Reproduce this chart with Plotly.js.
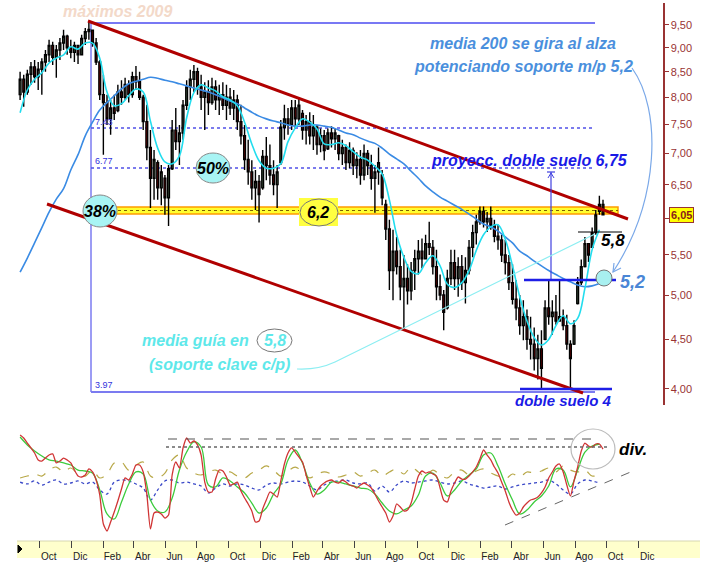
<!DOCTYPE html>
<html><head><meta charset="utf-8">
<script src="https://cdn.plot.ly/plotly-3.0.1.min.js"></script>
<style>html,body{margin:0;padding:0;background:#fff}#chart{width:708px;height:567px}</style>
</head><body><div id="chart"></div>
<script>
// ---- DATA (weekly candles starting 2009-08-24) ----
const startDate = '2009-08-24';
const openP = [8.05,8.35,8.10,8.45,8.60,8.40,8.55,8.70,8.85,9.05,
8.80,8.95,9.10,9.25,9.00,8.90,9.05,8.85,9.20,9.35,
9.38,9.10,8.70,8.05,7.90,7.60,7.80,7.75,8.10,8.00,
8.25,8.05,8.40,8.30,8.00,7.55,7.10,6.60,6.85,6.45,
6.60,6.30,6.75,7.40,7.20,7.35,7.85,8.20,8.35,8.50,
8.20,8.00,8.10,7.90,8.20,7.95,8.05,7.85,8.00,7.80,
7.95,7.55,7.30,6.90,6.70,6.45,6.55,6.45,6.95,6.80,
6.65,6.50,6.85,7.45,7.60,7.50,7.80,7.60,7.70,7.40,
7.55,7.30,7.45,7.15,7.30,7.08,7.35,7.25,7.30,7.00,
7.10,6.85,7.05,6.80,6.90,6.65,7.00,6.80,6.60,6.70,
6.65,6.20,5.85,5.30,5.55,5.35,5.10,5.20,5.05,5.30,
5.45,5.55,5.45,5.65,5.60,5.35,5.10,5.00,4.85,5.20,
5.40,5.20,5.35,5.15,5.30,5.60,5.80,5.95,6.10,5.95,
6.00,5.90,5.75,5.70,5.50,5.40,5.15,4.95,4.85,4.65,
4.75,4.50,4.45,4.30,4.40,4.50,4.85,4.75,4.80,4.70,
4.75,4.65,4.45,4.45,4.90,5.15,5.35,5.65,5.60,5.80,
6.10,6.20];
const highP = [8.50,8.44,8.54,8.70,8.74,8.70,8.78,8.95,9.17,9.13,
9.06,9.21,9.39,9.28,9.17,9.13,9.06,9.28,9.43,9.59,
9.39,9.21,8.74,8.44,8.05,7.95,8.05,8.24,8.33,8.38,
8.33,8.50,8.62,8.50,8.05,7.86,7.40,7.06,6.89,6.81,
6.65,6.81,7.58,7.80,7.49,7.95,8.33,8.54,8.64,8.58,
8.44,8.29,8.33,8.38,8.33,8.24,8.29,8.24,8.18,8.14,
8.05,7.86,7.49,7.23,6.89,6.73,6.65,7.06,7.28,7.15,
6.89,6.81,7.58,7.86,7.80,7.95,7.95,8.00,7.76,7.67,
7.72,7.67,7.49,7.43,7.40,7.43,7.47,7.43,7.32,7.23,
7.15,7.19,7.10,7.02,7.06,7.15,7.06,6.98,6.81,7.10,
6.73,6.27,5.98,5.84,5.74,5.57,5.50,5.38,5.41,5.57,
5.70,5.72,5.77,5.95,5.70,5.57,5.25,5.06,5.31,5.57,
5.57,5.47,5.50,5.47,5.70,5.91,6.05,6.17,6.17,6.09,
6.17,5.98,5.91,5.77,5.70,5.50,5.38,5.18,5.00,4.94,
4.83,4.75,4.63,4.55,4.60,4.94,5.18,4.94,5.00,5.18,
4.83,4.77,4.49,4.71,5.22,5.44,5.74,5.66,5.87,6.12,
6.33,6.27];
const lowP = [7.95,7.82,8.05,8.24,8.28,8.14,8.05,8.50,8.70,8.64,
8.38,8.74,8.95,8.85,8.78,8.70,8.66,8.85,9.06,9.17,
9.02,8.64,7.95,6.98,7.49,7.32,7.58,7.72,7.86,7.95,
7.90,7.99,8.14,7.95,7.40,6.89,6.15,6.27,6.27,6.19,
6.05,5.89,6.73,7.06,6.81,7.23,7.76,7.95,8.10,8.05,
7.76,7.40,7.67,7.86,7.76,7.67,7.76,7.58,7.67,7.58,
7.40,7.15,6.73,6.50,6.27,6.12,5.94,6.42,6.57,6.50,
6.34,6.15,6.81,7.23,7.32,7.40,7.43,7.49,7.23,7.15,
7.15,7.06,6.98,7.02,6.89,7.06,7.10,7.06,6.89,6.81,
6.73,6.76,6.65,6.60,6.50,6.57,6.65,6.42,6.08,6.50,
6.19,5.70,5.06,4.94,5.25,4.94,4.60,4.89,4.94,5.06,
5.25,5.33,5.44,5.50,5.25,4.94,4.94,4.60,4.83,5.12,
5.06,4.98,5.06,4.90,5.25,5.47,5.64,5.91,5.87,5.81,
5.84,5.67,5.57,5.41,5.25,5.06,4.89,4.71,4.55,4.49,
4.39,4.29,4.18,4.09,4.01,4.49,4.66,4.55,4.66,4.71,
4.60,4.39,3.99,4.44,4.89,5.12,5.34,5.41,5.60,5.77,
6.05,6.05];
const closeP = [8.35,8.10,8.45,8.60,8.40,8.55,8.70,8.85,9.05,8.80,
8.95,9.10,9.25,9.00,8.90,9.05,8.85,9.20,9.35,9.40,
9.10,8.70,8.05,7.90,7.60,7.80,7.70,8.10,8.00,8.25,
8.05,8.40,8.30,8.00,7.55,7.10,6.60,6.90,6.45,6.70,
6.30,6.75,7.40,7.20,7.35,7.85,8.20,8.35,8.50,8.20,
8.00,8.10,7.90,8.20,7.95,8.05,7.85,8.00,7.80,7.95,
7.55,7.30,6.90,6.70,6.45,6.55,6.35,6.95,6.80,6.65,
6.50,6.70,7.45,7.60,7.50,7.80,7.60,7.85,7.40,7.55,
7.30,7.45,7.15,7.30,7.05,7.35,7.25,7.35,7.00,7.10,
6.85,7.05,6.80,6.90,6.65,7.00,6.80,6.60,6.70,6.85,
6.30,5.85,5.30,5.55,5.35,5.10,5.20,5.05,5.30,5.45,
5.55,5.45,5.65,5.60,5.35,5.10,5.00,4.80,5.20,5.40,
5.20,5.35,5.15,5.30,5.60,5.80,5.95,6.10,5.95,6.00,
5.90,5.75,5.70,5.50,5.40,5.15,4.95,4.85,4.65,4.75,
4.50,4.45,4.30,4.40,4.20,4.85,4.75,4.80,4.70,4.75,
4.65,4.45,4.30,4.65,5.15,5.35,5.65,5.50,5.80,6.05,
6.20,6.05];
// moving averages, one value every 2 weeks
const maShort = [7.71,8.14,8.35,8.48,8.68,8.78,8.85,9.02,8.97,9.10,
9.10,8.78,8.10,7.84,7.88,8.03,8.16,8.10,7.56,7.09,
6.86,6.83,6.96,7.62,8.09,8.24,8.18,8.12,8.01,7.95,
7.84,7.54,7.16,6.88,6.76,6.76,6.83,7.20,7.44,7.60,
7.54,7.42,7.16,7.15,7.18,7.13,7.03,6.94,6.89,6.79,
6.67,6.27,5.77,5.47,5.29,5.26,5.40,5.49,5.36,5.13,
5.09,5.15,5.30,5.56,5.77,5.88,5.91,5.71,5.36,4.98,
4.70,4.52,4.44,4.50,4.65,4.76,4.67,4.73,5.08,5.57,
5.84];
const ma200 = [5.28,5.46,5.66,5.87,6.09,6.28,6.44,6.73,6.98,7.30,
7.54,7.76,7.90,8.03,8.16,8.26,8.31,8.35,8.39,8.37,
8.33,8.30,8.26,8.22,8.18,8.14,8.10,8.05,7.99,7.93,
7.88,7.80,7.72,7.65,7.60,7.56,7.53,7.49,7.47,7.47,
7.49,7.49,7.47,7.45,7.40,7.35,7.32,7.26,7.21,7.17,
7.09,6.99,6.91,6.83,6.71,6.60,6.48,6.39,6.31,6.25,
6.19,6.13,6.06,5.99,5.92,5.88,5.82,5.74,5.66,5.55,
5.49,5.42,5.36,5.30,5.25,5.20,5.16,5.12,5.10,5.11,
5.14];
// oscillators (0-100 scale)
const oscRed = [87.5,85,80.8,76.7,72.5,66.7,65.8,68.3,70.8,71.7,
64.2,65.8,68.3,66.7,64.2,58.3,53.3,52.5,54.2,59.2,
56.7,50,37.5,13.3,7.5,15,23.3,32.5,42.5,51.7,
50,55,62.5,62.5,56.7,38.3,9.2,22.5,23.3,21.7,
18.3,20.8,54.2,65,60,76.7,85,80.8,82.5,79.2,
70.8,48.3,40,40,50.8,58.3,57.5,52.5,45.8,46.7,
48.3,40.8,35,30,24.2,15,15.8,25.8,33.3,40,
38.3,35.8,49.2,63.3,72.5,76.7,73.3,69.2,65,54.2,
44.2,35.8,40.8,45,47.5,49.2,50,48.3,47.5,50,
48.3,45.8,45,43.3,45.8,47.5,45.8,43.3,38.3,32.5,
27.5,22.5,15,20,30,27.5,24.2,25,30.8,42.5,
53.3,57.5,55.8,56.7,55,53.3,43.3,33.3,31.7,40.8,
47.5,52.5,50.8,50.8,53.3,56.7,60.8,67.5,75,70.8,
66.7,60.8,55.8,48.3,40.8,31.7,25,20.8,22.5,27.5,
30.8,33.3,34.2,35.8,39.2,44.2,51.7,56.7,61.7,63.3,
56.7,45.8,36.7,49.2,60.8,74.2,80.8,78.3,77.5,80,
80,75.8];
const oscGreen = [85.8,79.2,74.2,70,66.7,65.8,64.2,62.5,58.3,57.5,
55.8,41.7,21.7,17.5,31.7,46.7,56.7,55,33.3,24.2,
23.3,35,58.3,73.3,81.7,77.5,45.8,44.2,51.7,49.2,
44.2,39.2,30.8,22.5,26.7,38.3,46.7,66.7,75,64.2,
47.5,38.3,41.7,48.3,48.3,46.7,45,43.3,42.5,38.3,
30.8,24.2,21.7,25,28.3,37.5,53.3,55.8,47.5,36.7,
41.7,49.2,54.2,59.2,70.8,72.5,61.7,46.7,33.3,21.7,
25,31.7,36.7,45,59.2,58.3,44.2,58.3,73.3,78.3,
80];
const oscOlive = [51.7,53.3,55,53.3,58.3,60.8,56.7,60,55,53.3,
58.3,51.7,55,64.2,65,58.3,62.5,65,53.3,51.7,
55.8,66.7,70.8,60,55.8,54.2,56.7,58.3,55,56.7,
53.3,51.7,55.8,58.3,61.7,58.3,53.3,57.5,60.8,56.7,
51.7,55,56.7,55,52.5,54.2,56.7,53.3,55.8,58.3,
53.3,56.7,59.2,55,60.8,56.7,53.3,58.3,54.2,51.7,
56.7,58.3,54.2,57.5,59.2,55.8,53.3,50.8,55,52.5,
56.7,55.8,57.5,60,56.7,61.7,58.3,56.7,58.3,53.3,
54.2];
const oscBlue = [48.3,46.7,49.2,45.8,48.3,50,46.7,47.5,49.2,46.7,
48.3,41.7,38.3,48.3,50,49.2,46.7,43.3,33.3,41.7,
49.2,50,47.5,48.3,46.7,45,39.2,43.3,46.7,45,
46.7,45.8,43.3,41.7,45.8,47.5,46.7,48.3,49.2,48.3,
45,41.7,45.8,48.3,49.2,50,47.5,46.7,47.5,40.8,
45,40,45.8,49.2,47.5,48.3,49.2,50,48.3,46.7,
47.5,49.2,46.7,45,43.3,44.2,45,42.5,44.2,45.8,
46.7,47.5,48.3,50,46.7,41.7,38.3,46.7,50,49.2,
47.5];
const monthTickDates = ['2009-10-01','2009-12-01','2010-02-01','2010-04-01','2010-06-01','2010-08-01',
'2010-10-01','2010-12-01','2011-02-01','2011-04-01','2011-06-01','2011-08-01',
'2011-10-01','2011-12-01','2012-02-01','2012-04-01','2012-06-01','2012-08-01',
'2012-10-01','2012-12-01'];
const monthTickLabels = ['Oct','Dic','Feb','Abr','Jun','Ago','Oct','Dic','Feb','Abr','Jun','Ago',
'Oct','Dic','Feb','Abr','Jun','Ago','Oct','Dic'];
const priceTicks = [4,4.5,5,5.5,6,6.5,7,7.5,8,8.5,9,9.5];
const priceTickLabels = ['4,00','4,50','5,00','5,50','','6,50','7,00','7,50','8,00','8,50','9,00','9,50'];
const lastPriceLabel = '6,05';

// ---- helpers ----
function weekDate(k){const d=new Date(startDate+'T00:00:00Z');d.setUTCDate(d.getUTCDate()+7*k);return d.toISOString().slice(0,10);}
const weeks = openP.map((_,k)=>weekDate(k));
const weeks2 = maShort.map((_,i)=>weekDate(2*i));

const W=708,H=567;
const PX=x=>x/W, PY=y=>1-y/H;
function seg(x0,y0,x1,y1,color,width,dash,layer){return {type:'line',xref:'paper',yref:'paper',x0:PX(x0),y0:PY(y0),x1:PX(x1),y1:PY(y1),line:{color:color,width:width,dash:dash||'solid'},layer:layer||'above'};}
function box(type,x0,y0,x1,y1,fill,lc,lw,layer){return {type:type,xref:'paper',yref:'paper',x0:PX(x0),y0:PY(y0),x1:PX(x1),y1:PY(y1),fillcolor:fill||'rgba(0,0,0,0)',line:{color:lc||'rgba(0,0,0,0)',width:lw||0},layer:layer||'above'};}
function path(tokens,color,width,fill){let s='';let nx=true;for(const t of tokens){if(typeof t==='string'){s+=t;nx=true;}else{if(nx){s+=PX(t).toFixed(5)+',';nx=false;}else{s+=PY(t).toFixed(5)+' ';nx=true;}}}
 return {type:'path',xref:'paper',yref:'paper',path:s,line:{color:color,width:width},fillcolor:fill||'rgba(0,0,0,0)',layer:'above'};}
const FF='Arial, "Liberation Sans", sans-serif';
function txt(x,y,text,size,color,xanchor,extra){return Object.assign({xref:'paper',yref:'paper',x:PX(x),y:PY(y),text:text,showarrow:false,xanchor:xanchor||'center',yanchor:'middle',font:{family:FF,size:size,color:color}},extra||{});}
const BI=s=>'<b><i>'+s+'</i></b>';

// ---- traces ----
const traces = [
 {type:'candlestick',x:weeks,open:openP,high:highP,low:lowP,close:closeP,xaxis:'x',yaxis:'y',
  increasing:{line:{color:'#000',width:1.4},fillcolor:'#567656'},
  decreasing:{line:{color:'#000',width:1.4},fillcolor:'#960000'},
  whiskerwidth:0,hoverinfo:'skip',showlegend:false},
 {type:'scatter',mode:'lines',x:weeks2,y:ma200,xaxis:'x',yaxis:'y',line:{color:'#3A8BE4',width:1.6,shape:'spline'},hoverinfo:'skip',showlegend:false},
 {type:'scatter',mode:'lines',x:weeks2,y:maShort,xaxis:'x',yaxis:'y',line:{color:'#22DDEE',width:1.6,shape:'spline'},hoverinfo:'skip',showlegend:false},
 {type:'scatter',mode:'lines',x:weeks2,y:oscOlive,xaxis:'x',yaxis:'y2',line:{color:'#B8A848',width:1.2,dash:'dash',shape:'spline'},hoverinfo:'skip',showlegend:false},
 {type:'scatter',mode:'lines',x:weeks2,y:oscBlue,xaxis:'x',yaxis:'y2',line:{color:'#3A48C8',width:1.3,dash:'dot',shape:'spline'},hoverinfo:'skip',showlegend:false},
 {type:'scatter',mode:'lines',x:weeks2,y:oscGreen,xaxis:'x',yaxis:'y2',line:{color:'#3CCB3C',width:1.3,shape:'spline'},hoverinfo:'skip',showlegend:false},
 {type:'scatter',mode:'lines',x:weeks,y:oscRed,xaxis:'x',yaxis:'y2',line:{color:'#D03535',width:1.3,shape:'spline',smoothing:0.6},hoverinfo:'skip',showlegend:false}
];

// ---- decorations ----
const shapes = [
 box('rect',17,541,700,558,'#FFFFCC','rgba(0,0,0,0)',0,'below'),
 seg(17,541,700,541,'#D8D8B0',1,'solid','below'),
 path(['M',18,545,'L',22,549,'L',18,553,'Z'],'#000',1,'#000'),
 seg(91,23,595,23,'#4B4BF0',1.5,'solid','below'),
 seg(91,23,91,392,'#7B7BF0',1.5,'solid','below'),
 seg(91,392,595,392,'#7B7BF0',2,'solid','below'),
 seg(91,128,595,128,'#5050E8',1.5,'dot','below'),
 seg(91,168,595,168,'#5050E8',1.5,'dot','below'),
 box('rect',100,207,618,214,'#FFFF30','#FF9A00',1.5,'below'),
 seg(100,210.5,618,210.5,'#806000',1,'dot','below'),
 seg(88,21,628,219,'#B00000',3),
 seg(47,204,583,393,'#B00000',3),
 seg(551,280,551,172,'#4040E0',1.2),
 seg(547,172,555,172,'#4040E0',1.2),
 path(['M',548,178,'L',551,173,'L',554,178],'#4040E0',1),
 seg(524,280,616,280,'#1E1EE6',2.5),
 seg(578,232,622,232,'#000',1.2),
 seg(520,389,612,389,'#1E1EE6',2.5),
 path(['M',632,68,'C',662,110,660,200,613,272],'#7AA8E8',1.2),
 path(['M',621,268,'L',613,272,'L',614,263],'#7AA8E8',1.2),
 path(['M',297,369,'Q',318,370,335,362,'L',595,234],'#8CEEF2',1.2),
 box('circle',596,270,612,286,'#A8F0F0','#777',1),
 box('circle',83,195,117,227,'#A8F4F4','#888',1),
 box('circle',196,153,230,183,'#A8F4F4','#888',1),
 box('rect',299,198,338,226,'#FFFF40','rgba(0,0,0,0)',0),
 box('circle',300,199,338,226,'rgba(0,0,0,0)','#777',1),
 box('circle',257,329,292,352,'rgba(0,0,0,0)','#777',1),
 seg(168,439,600,439,'#555',1.2,'dash'),
 seg(166,447,608,447,'#666',1.5,'dot'),
 seg(505,525,633,471,'#666',1,'dash'),
 box('circle',571,429,615,469,'rgba(0,0,0,0)','#BBBBBB',1.2)
];

const annotations = [
 txt(118,11,BI('máximos 2009'),16,'#F3D9C9'),
 txt(523,43,BI('media 200 se gira al alza'),16,'#4A8FDD'),
 txt(523,66,BI('potenciando soporte m/p 5,2'),16,'#4A8FDD'),
 txt(529,161,BI('proyecc. doble suelo 6,75'),16,'#1A1AE6'),
 txt(213,168,BI('50%'),16,'#000'),
 txt(100,211,BI('38%'),16,'#000'),
 txt(318,212,BI('6,2'),16,'#000'),
 txt(613,241,BI('5,8'),17,'#000'),
 txt(632,282,BI('5,2'),18,'#4A86D6'),
 txt(563,400,BI('doble suelo 4'),15,'#1A1AE6'),
 txt(255,340,BI('media guía en '),16,'#5EE8EA','right'),
 txt(275,340,BI('5,8'),16,'#5EE8EA'),
 txt(219,364,BI('(soporte clave c/p)'),16,'#5EE8EA'),
 txt(633,449,BI('div.'),17,'#000'),
 txt(93,122,'7.43',9,'#3333DD','left'),
 txt(93,161,'6.77',9,'#3333DD','left'),
 txt(93,385,'3.97',9,'#3333DD','left'),
 txt(681,215,'<b>'+lastPriceLabel+'</b>',11,'#8B1A1A','center',{bgcolor:'#FFFF00',bordercolor:'#993333',borderwidth:1,borderpad:1})
];

const layout = {
 width:W,height:H,margin:{l:0,r:0,t:0,b:0},
 paper_bgcolor:'#fff',plot_bgcolor:'rgba(0,0,0,0)',
 separators:',.',showlegend:false,
 font:{family:FF},
 xaxis:{type:'date',domain:[17/W,663/W],range:['2009-08-18','2013-01-18'],anchor:'y2',
  tickvals:monthTickDates,ticktext:monthTickLabels,ticks:'outside',ticklen:7,tickcolor:'#444',tickwidth:1,
  showgrid:false,zeroline:false,showline:false,tickfont:{family:FF,size:10,color:'#222'},
  ticklabelshift:9,ticklabelstandoff:0,rangeslider:{visible:false},fixedrange:true},
 yaxis:{type:'log',domain:[1-405/H,1-3/H],range:[0.5855,1.0004],side:'right',anchor:'x',
  tickvals:priceTicks,ticktext:priceTickLabels,ticks:'outside',ticklen:4,tickcolor:'#993333',
  showline:true,linecolor:'#993333',linewidth:1.5,showgrid:false,zeroline:false,
  tickfont:{family:FF,size:11,color:'#993333'},fixedrange:true},
 yaxis2:{domain:[1-540/H,1-420/H],range:[0,100],anchor:'x',visible:false,fixedrange:true},
 shapes:shapes,annotations:annotations
};
Plotly.newPlot('chart',traces,layout,{staticPlot:true,displayModeBar:false});
</script></body></html>
